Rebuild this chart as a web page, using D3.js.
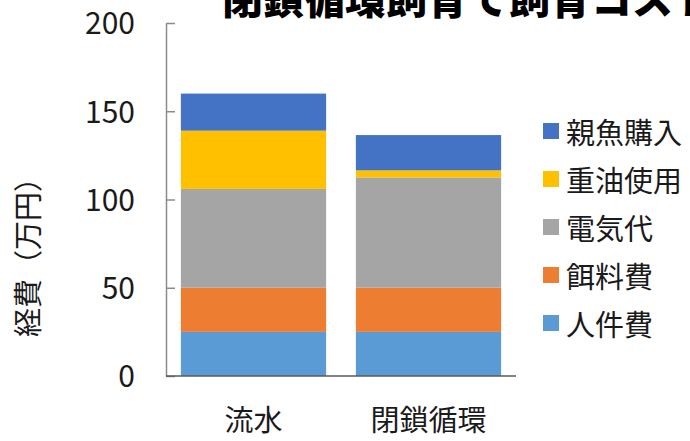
<!DOCTYPE html>
<html>
<head>
<meta charset="utf-8">
<script src="https://cdn.jsdelivr.net/npm/d3@7"></script>
<style>
  html, body { margin: 0; padding: 0; background: #fff; }
  svg { display: block; }
  text { font-family: "Noto Sans CJK JP", "Noto Sans", sans-serif; }
</style>
</head>
<body>
<svg id="chart" width="690" height="441"></svg>
<script>
// Cost breakdown (万円) per rearing method
const categories = ["流水", "閉鎖循環"];
const seriesNames = ["人件費", "餌料費", "電気代", "重油使用", "親魚購入"];
const laborCost    = [25, 25];
const feedCost     = [25, 25];
const electricCost = [56, 62.5];
const heavyOilCost = [33, 4];
const broodstock   = [21, 20];
const yTicks = [0, 50, 100, 150, 200];
const colors = ["#5B9BD5", "#ED7D31", "#A5A5A5", "#FFC000", "#4472C4"];

const seriesValues = [laborCost, feedCost, electricCost, heavyOilCost, broodstock];
const rows = categories.map((c, i) => {
  const r = { category: c };
  seriesNames.forEach((s, j) => { r[s] = seriesValues[j][i]; });
  return r;
});

const svg = d3.select("#chart");

const x = d3.scaleBand().domain(categories).range([166, 516])
  .paddingInner(0.17).paddingOuter(0.085);
const y = d3.scaleLinear().domain([0, 200]).range([376, 23]);

const stack = d3.stack().keys(seriesNames)(rows);
const color = d3.scaleOrdinal().domain(seriesNames).range(colors);

// Title (runs off the top edge)
svg.append("text")
  .attr("x", 222).attr("y", 14)
  .attr("font-size", 41).attr("font-weight", 900)
  .attr("fill", "#000")
  .text("閉鎖循環飼育で飼育コスト削減");

// Stacked bars
svg.append("g").selectAll("g").data(stack).join("g")
  .attr("fill", d => color(d.key))
  .selectAll("rect").data(d => d).join("rect")
  .attr("x", d => x(d.data.category))
  .attr("width", x.bandwidth())
  .attr("y", d => y(d[1]))
  .attr("height", d => y(d[0]) - y(d[1]));

// Y axis with inward ticks
const yAxis = svg.append("g").attr("transform", "translate(166,0)")
  .call(d3.axisLeft(y).tickValues(yTicks).tickSize(-9).tickSizeOuter(0).tickPadding(31));
yAxis.select(".domain").attr("stroke", "#8c8c8c").attr("stroke-width", 1.5);
yAxis.selectAll(".tick line").attr("stroke", "#8c8c8c").attr("stroke-width", 1.5);
yAxis.selectAll(".tick text")
  .attr("font-size", 30).attr("fill", "#1a1a1a")
  .attr("font-family", "\"Noto Sans\", sans-serif")
  .attr("dy", "0.36em");

// X axis baseline and category labels
const xAxis = svg.append("g").attr("transform", "translate(0,376)")
  .call(d3.axisBottom(x).tickSize(0).tickPadding(34));
xAxis.select(".domain").attr("stroke", "#5a5a5a").attr("stroke-width", 1.5)
  .attr("d", "M166,0H516");
xAxis.selectAll(".tick text")
  .attr("font-size", 29).attr("fill", "#1a1a1a");

// Y axis title
svg.append("text")
  .attr("transform", "translate(26,250) rotate(-90)")
  .attr("text-anchor", "middle").attr("dominant-baseline", "central")
  .attr("font-size", 29).attr("fill", "#1a1a1a")
  .text("経費（万円）");

// Legend, top-to-bottom in reverse stacking order
const legendItems = seriesNames.slice().reverse();
const legend = svg.append("g").selectAll("g").data(legendItems).join("g")
  .attr("transform", (d, i) => `translate(543,${131 + i * 48})`);
legend.append("rect")
  .attr("x", 0).attr("y", -8).attr("width", 16).attr("height", 16)
  .attr("fill", d => color(d));
legend.append("text")
  .attr("x", 23).attr("y", 0).attr("dominant-baseline", "central")
  .attr("font-size", 29).attr("fill", "#1a1a1a")
  .text(d => d);
</script>
</body>
</html>
